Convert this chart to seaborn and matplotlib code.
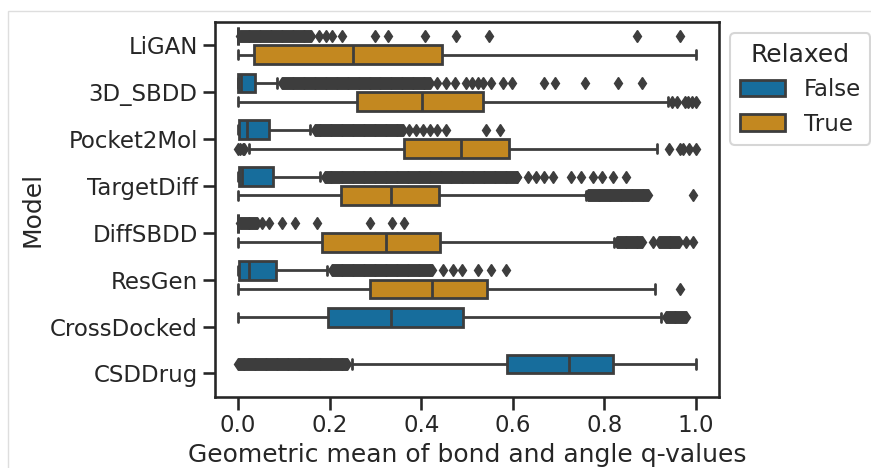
import numpy as np
import pandas as pd
import matplotlib
matplotlib.use('Agg')
import matplotlib.pyplot as plt
from matplotlib.patches import Rectangle
import seaborn as sns

# 模型顺序 / hue 顺序
models = ['LiGAN', '3D_SBDD', 'Pocket2Mol', 'TargetDiff', 'DiffSBDD',
          'ResGen', 'CrossDocked', 'CSDDrug']

# 每个箱子一条记录 (读图得到的五数概括)
box_model = ['LiGAN', 'LiGAN', '3D_SBDD', '3D_SBDD', 'Pocket2Mol', 'Pocket2Mol',
             'TargetDiff', 'TargetDiff', 'DiffSBDD', 'DiffSBDD', 'ResGen', 'ResGen',
             'CrossDocked', 'CSDDrug']
box_relaxed = [False, True, False, True, False, True, False, True,
               False, True, False, True, False, False]
whisker_lo = [0.0, 0.0, 0.0, 0.0, 0.0, 0.023, 0.0, 0.0, 0.0, 0.0, 0.0, 0.0, 0.0, 0.248]
q1 = [0.0, 0.034, 0.0, 0.26, 0.002, 0.362, 0.003, 0.224, 0.0, 0.184, 0.003, 0.287, 0.197, 0.588]
median = [0.0, 0.251, 0.006, 0.401, 0.02, 0.486, 0.009, 0.333, 0.0, 0.322, 0.025, 0.424, 0.333, 0.723]
q3 = [0.0, 0.445, 0.038, 0.534, 0.067, 0.592, 0.076, 0.439, 0.0, 0.44, 0.083, 0.544, 0.491, 0.819]
whisker_hi = [0.0, 1.0, 0.085, 0.938, 0.158, 0.914, 0.18, 0.759, 0.0, 0.821, 0.195, 0.911, 0.923, 1.0]

# 稀疏的离群点
outliers = [
    [0.176, 0.191, 0.206, 0.227, 0.30, 0.328, 0.408, 0.475, 0.548, 0.871, 0.964],
    [],
    [0.435, 0.453, 0.474, 0.497, 0.51, 0.523, 0.534, 0.552, 0.579, 0.598,
     0.668, 0.691, 0.758, 0.829, 0.882],
    [0.948, 0.958, 0.975, 0.983, 0.992, 1.0],
    [0.373, 0.389, 0.403, 0.42, 0.434, 0.453, 0.542, 0.571],
    [0.0, 0.005, 0.01, 0.014, 0.94, 0.964, 0.972, 0.985, 1.0],
    [0.632, 0.65, 0.668, 0.687, 0.727, 0.749, 0.774, 0.794, 0.818, 0.847],
    [0.993],
    [0.052, 0.067, 0.096, 0.124, 0.173, 0.289, 0.337, 0.362],
    [0.905, 0.978, 0.994],
    [0.448, 0.469, 0.488, 0.523, 0.552, 0.586],
    [0.964],
    [],
    [],
]
# 密集离群点区间 (起点, 终点)
outlier_bands = [
    [(0.005, 0.16)],
    [],
    [(0.097, 0.42)],
    [],
    [(0.168, 0.36)],
    [],
    [(0.19, 0.61)],
    [(0.765, 0.895)],
    [(0.005, 0.042)],
    [(0.828, 0.883), (0.92, 0.963)],
    [(0.206, 0.424)],
    [],
    [(0.935, 0.978)],
    [(0.0, 0.238)],
]

# 用五数概括重建样本
L = 1000
rows = []
for i in range(len(box_model)):
    vals = [whisker_lo[i]] + [q1[i]] * L + [median[i]] * L + [q3[i]] * L + [whisker_hi[i]]
    vals += outliers[i]
    for a, b in outlier_bands[i]:
        vals += list(np.arange(a, b + 1e-9, 0.002))
    for v in vals:
        rows.append((box_model[i], box_relaxed[i], v))
df = pd.DataFrame(rows, columns=['Model', 'Relaxed', 'q'])

sns.set_theme(context='talk', style='ticks')
fig = plt.figure(figsize=(8.71, 4.68), dpi=100)
ax = fig.add_axes([0.247, 0.152, 0.5785, 0.801])

sns.boxplot(data=df, x='q', y='Model', hue='Relaxed', order=models,
            hue_order=[False, True], palette='colorblind', ax=ax,
            linecolor='0.24', linewidth=2, fliersize=6.5,
            flierprops=dict(marker='d', markerfacecolor='0.24',
                            markeredgecolor='0.24'))

ax.set_xlabel('Geometric mean of bond and angle q-values')
ax.set_ylabel('Model')
ax.set_xticks([0.0, 0.2, 0.4, 0.6, 0.8, 1.0])
for s in ax.spines.values():
    s.set_visible(True)
sns.move_legend(ax, 'upper left', bbox_to_anchor=(1, 1), title='Relaxed')

# 截图的浅灰边框
fig.add_artist(Rectangle((8 / 871, -0.1), 1.2, 1.1 - 11 / 468, transform=fig.transFigure,
                         fill=False, edgecolor='#dedede', lw=1))

plt.savefig('out.png', dpi=100)
